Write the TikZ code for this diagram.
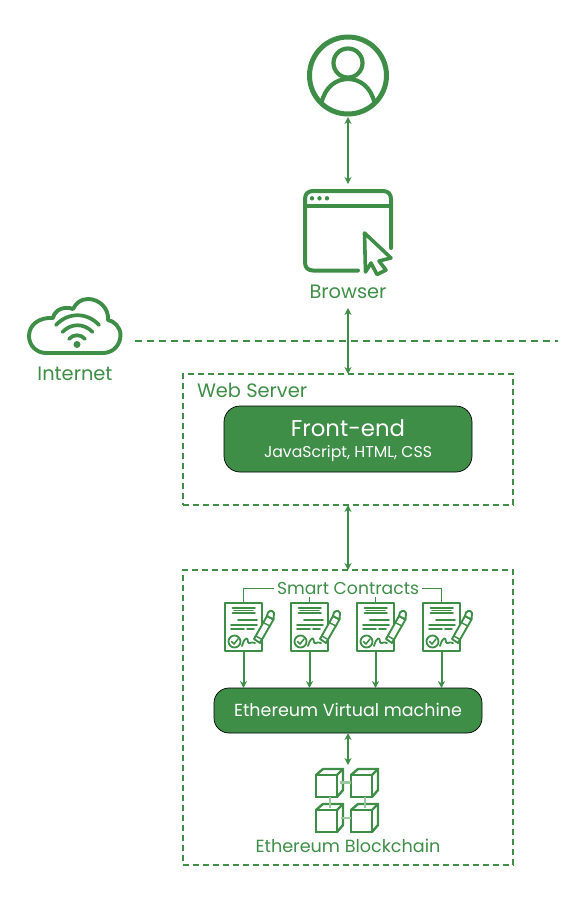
\documentclass[tikz,border=0pt]{standalone}
\usepackage{fontspec}
\setmainfont{Poppins}
\usetikzlibrary{arrows.meta,calc}
\definecolor{gfg}{HTML}{3E8E47}
\definecolor{gfglight}{HTML}{9CC8A0}
\tikzset{
  every node/.style={outer sep=0pt},
  link/.style={draw=gfg,line width=1.8pt,{Stealth[length=7pt,width=7pt]}-{Stealth[length=7pt,width=7pt]}},
  flow/.style={draw=gfg,line width=2pt,-{Stealth[length=7pt,width=7pt]}},
  bracket/.style={draw=gfg,line width=1.8pt},
  zone/.style={draw=gfg,line width=1.9pt,dash pattern=on 6pt off 4pt,inner sep=0pt,anchor=north west},
  darkbox/.style={draw=black,line width=.7pt,fill=gfg,rounded corners=15pt,inner sep=0pt,anchor=north west},
  txt/.style={text=gfg,inner sep=0pt,font=\fontsize{19.4}{21}\selectfont},
  txtsmall/.style={text=gfg,inner sep=0pt,font=\fontsize{17.2}{19}\selectfont},
  icon/.style={draw=gfg,line cap=round,line join=round},
}
\newcommand{\contract}[2]{%
\begin{scope}[shift={(#1,#2)},icon]
  \draw[line width=2pt,line cap=butt] (0,0) rectangle (37,48);
  \draw[line width=1.7pt] (7.5,5) -- (30,5) (7.5,10) -- (30,10);
  \draw[line width=1.5pt] (9,7.5) -- (28,7.5);
  \draw[line width=1.6pt] (13,17) -- (32,17) (6,22) -- (32,22) (6,26) -- (19,26) (22,26) -- (29,26);
  \draw[line width=1.8pt] (9.5,38.5) circle (6);
  \draw[line width=1.6pt] (6.5,38.5) -- (9,41) -- (13,36);
  \draw[line width=1.8pt] (17,43) .. controls (20,33) and (23,34) .. (23,39) .. controls (24,42) and (26,38) .. (30,40);
  \draw[line width=1.9pt,fill=white] (29,36) -- (42,13) -- (48.5,16.5) -- (35,40) -- cycle;
  \draw[line width=1.9pt,fill=white] (42,13) .. controls (42,7) and (48,6.5) .. (49,10) -- (48.5,16.5) -- cycle;
  \draw[line width=1.5pt] (31,33) -- (37,36.5) (39,20) -- (45,23);
\end{scope}}
\newcommand{\cube}[2]{%
\begin{scope}[shift={(#1,#2)},icon,line width=2.4pt,line cap=butt,line join=miter]
  \draw (0,0) rectangle (21,22);
  \draw (0,0) -- (7,-6) -- (27,-6) -- (27,15) -- (21,22);
  \draw (21,0) -- (27,-6);
\end{scope}}
\begin{document}
\begin{tikzpicture}[x=1pt,y=-1pt]
\useasboundingbox (0,0) rectangle (588,900);

% user
\node[circle,draw=gfg,line width=5pt,minimum size=77pt,inner sep=0pt] (user) at (348,75.5) {};
\draw[icon,line width=4.2pt] (348,63) circle (14.5);
\draw[icon,line width=4.2pt,line cap=butt] (321.5,103) .. controls (325,87) and (336,79) .. (348,79) .. controls (360,79) and (371,87) .. (374.5,103);

% browser
\node[inner sep=0pt,minimum width=90pt,minimum height=84pt] (browser) at (348,231) {};
\draw[icon,line width=4pt] (358,270.5) -- (313,270.5) .. controls (308,270.5) and (305,267.5) .. (305,262.5) -- (305,199) .. controls (305,194) and (308,191) .. (313,191) -- (383,191) .. controls (388,191) and (391,194) .. (391,199) -- (391,248);
\draw[icon,line width=3.2pt,line cap=butt] (305,206) -- (391,206);
\foreach \x in {312,319.5,327} \fill[gfg] (\x,198.3) circle (2.2);
\draw[icon,line width=3.6pt] (364.5,233) -- (391,258) -- (379,261) -- (386,270) -- (377,274.5) -- (371,263) -- (365.5,272) -- cycle;
\node[txt] (browserlabel) at (348,292) {Browser};

% cloud
\node[inner sep=0pt,minimum width=95pt,minimum height=58pt] (cloud) at (74.5,326) {};
\draw[icon,line width=3.9pt] (46,353) -- (103,353) .. controls (113,353) and (120.5,345) .. (120.5,335) .. controls (120.5,327) and (114,321) .. (108,320) .. controls (109,308) and (99,299) .. (88,299) .. controls (81,299) and (76,303) .. (73,309) .. controls (65,306) and (55,309) .. (53,318) .. controls (39,317) and (29,325) .. (29,336) .. controls (29,346) and (37,353) .. (46,353);
\draw[icon,line width=3.7pt] (56,325) .. controls (68,312) and (87,312) .. (99,325);
\draw[icon,line width=3.7pt] (62.5,332) .. controls (71,323) and (84,323) .. (92.5,332);
\draw[icon,line width=3.7pt] (69,339) .. controls (73,334) and (81,334) .. (85,339);
\fill[gfg] (77,344.5) circle (3.5);
\node[txt] (internet) at (75,374) {Internet};
\coordinate (divL) at (135,341);
\coordinate (divR) at (558,341);
\draw[draw=gfg,line width=1.9pt,dash pattern=on 7pt off 5pt] (divL) -- (divR);

% web server
\node[zone,minimum width=330pt,minimum height=131pt] (web) at (183,374) {};
\node[txt,anchor=west] (weblabel) at (197,390) {Web Server};
\node[darkbox,rounded corners=16pt,minimum width=248pt,minimum height=66pt] (front) at (224,406) {};
\node[text=white,inner sep=0pt,font=\fontsize{22.8}{25}\selectfont] (fronttitle) at (348,428) {Front-end};
\node[text=white,inner sep=0pt,font=\fontsize{15.7}{18}\selectfont] (frontsub) at (348,453.5) {JavaScript, HTML, CSS};

% EVM zone
\node[zone,minimum width=330pt,minimum height=295pt] (chain) at (183,570) {};
\node[txtsmall] (smart) at (348,588.5) {Smart Contracts};
\node[darkbox,minimum width=268pt,minimum height=45pt] (evm) at (214,688) {};
\node[text=white,inner sep=0pt,font=\fontsize{17.5}{19}\selectfont] (evmlabel) at (348,709.5) {Ethereum Virtual machine};

% contracts
\contract{225}{603}
\contract{291}{603}
\contract{357}{603}
\contract{423}{603}
\foreach \n/\x in {a/243.5,b/309.5,c/375.5,d/441.5}{
  \coordinate (top\n) at (\x,603);
  \coordinate (bot\n) at (\x,651);
  \coordinate (evm\n) at (\x,688);
  \draw[flow] (bot\n) -- (evm\n);
}
\draw[bracket] (topa) |- ([xshift=-3pt]smart.west);
\draw[bracket] (topd) |- ([xshift=3pt]smart.east);
\draw[bracket] (topb) -- (309.5,597);
\draw[bracket] (topc) -- (375.5,597);

% blockchain
\cube{316}{775}
\cube{351}{775}
\cube{316}{810}
\cube{351}{810}
\draw[draw=gfglight,line width=2.4pt] (340,782.5) -- (351,782.5) (341,818) -- (351,818) (330,797) -- (330,808) (365,797) -- (365,808);
\node[inner sep=0pt,minimum width=62pt,minimum height=68pt] (blocks) at (348,799) {};
\node[txtsmall,font=\fontsize{17.6}{19}\selectfont] (chainlabel) at (348,846) {Ethereum Blockchain};

% connectors (y runs downward, so page-pt shifts are inverted)
\coordinate (u1) at ([yshift=-3pt]user.south);
\coordinate (b1) at ([yshift=5pt]browser.north);
\coordinate (b2) at ([yshift=-35pt]browser.south);
\draw[link] (u1) -- (b1);
\draw[link] (b2) -- (web.north);
\draw[link] (web.south) -- (chain.north);
\draw[link] (evm.south) -- (blocks.north);
\end{tikzpicture}
\end{document}
